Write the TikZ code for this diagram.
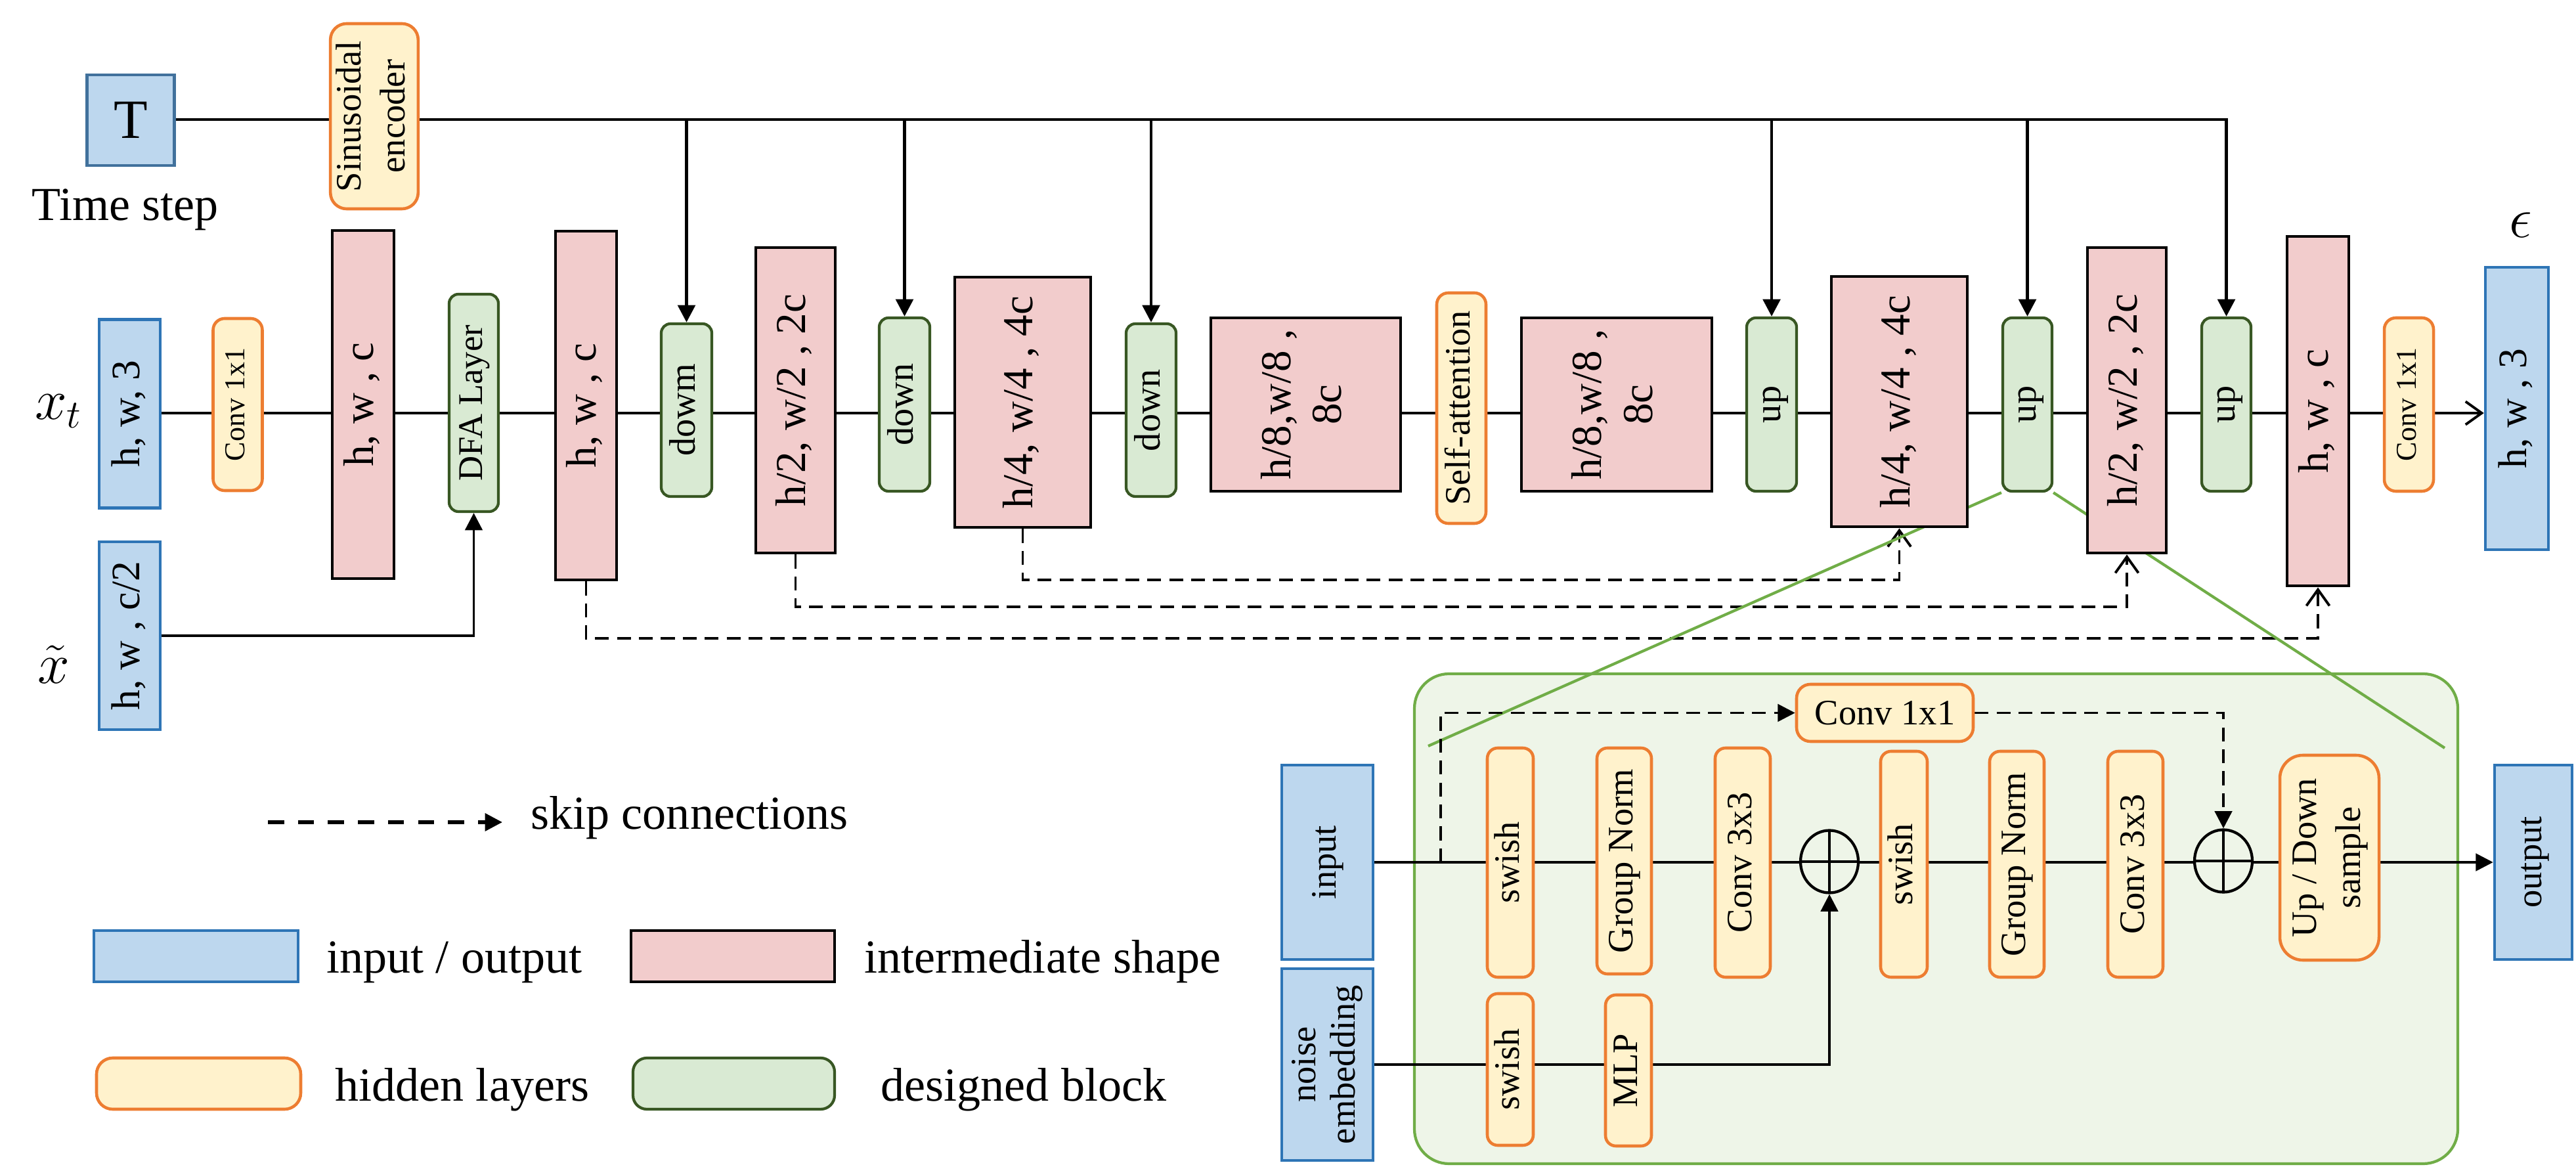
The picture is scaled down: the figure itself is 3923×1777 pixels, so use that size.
\documentclass[tikz,border=0pt]{standalone}
\usepackage{fontspec}
\setmainfont{Liberation Serif}
\usetikzlibrary{arrows.meta,shapes.geometric}
\definecolor{blueF}{HTML}{BDD7EE}
\definecolor{blueD}{HTML}{2E75B6}
\definecolor{tD}{HTML}{41719C}
\definecolor{pinkF}{HTML}{F2CCCC}
\definecolor{orF}{HTML}{FFF2CC}
\definecolor{orD}{HTML}{ED7D31}
\definecolor{grF}{HTML}{D9EAD3}
\definecolor{grD}{HTML}{385723}
\definecolor{bgF}{HTML}{EEF5E8}
\definecolor{bgD}{HTML}{70AD47}
\pgfdeclarelayer{back}
\pgfdeclarelayer{lines}
\pgfsetlayers{back,lines,main}
\newcommand{\vtext}[1]{\rotatebox{90}{\begin{tabular}{@{}c@{}}#1\end{tabular}}}
\newcommand{\fsz}[2]{\fontsize{#1}{#2}\selectfont}
\tikzset{
  sz/.style 2 args={minimum width=#1*0.01cm, minimum height=#2*0.01cm},
  io/.style={draw=blueD, fill=blueF, line width=1.3pt, inner sep=0pt, font=\fsz{17.5}{21}},
  pk/.style={draw=black, fill=pinkF, line width=1.4pt, inner sep=0pt, font=\fsz{18.5}{22}},
  hl/.style={draw=orD, fill=orF, line width=1.3pt, rounded corners=5pt, inner sep=0pt, font=\fsz{15.5}{19}},
  db/.style={draw=grD, fill=grF, line width=1.2pt, rounded corners=4pt, inner sep=0pt, font=\fsz{16}{19}},
  conn/.style={line width=1.1pt},
  tline/.style={line width=1.4pt},
  skipl/.style={line width=1.1pt, dash pattern=on 6pt off 3.5pt},
  tarr/.style={-{Triangle[length=7.5pt,width=7.5pt]}},
  barr/.style={-{Straight Barb[length=7pt,width=10pt]}},
  opl/.style={ellipse, draw, line width=1.2pt, inner sep=0pt, sz={88}{95},
    path picture={\draw[line width=1.2pt] (path picture bounding box.north) -- (path picture bounding box.south);
                  \draw[line width=1.2pt] (path picture bounding box.west) -- (path picture bounding box.east);}},
  lbl/.style={inner sep=0pt, font=\fsz{20.5}{24}},
}
\begin{document}
\begin{tikzpicture}[x=0.01cm, y=-0.01cm]
\useasboundingbox (0,0) rectangle (3923,1777);
% ---------- top row
\node[io, draw=tD, sz={133}{138}, font=\fsz{24}{28}] (T) at (199,183) {T};
\node[lbl, anchor=base west] (ts) at (48,336) {Time step};
\node[hl, sz={129}{282}, rounded corners=7pt] (sin) at (570,177) {\vtext{Sinusoidal\\encoder}};
% ---------- main row
\node[io, sz={93}{287}] (xt) at (197.5,630) {\vtext{h, w, 3}};
\node[hl, sz={75}{262}, font=\fsz{12.5}{15}] (c1) at (362,616) {\vtext{Conv 1x1}};
\node[pk, sz={94}{530}] (p1) at (553,616) {\vtext{h, w , c}};
\node[db, sz={75}{331}, font=\fsz{15}{18}] (dfa) at (721.5,613.5) {\vtext{DFA Layer}};
\node[pk, sz={93}{531}] (p2) at (892.5,617.5) {\vtext{h, w , c}};
\node[db, sz={77}{263}] (dm1) at (1045.5,624.5) {\vtext{dowm}};
\node[pk, sz={121}{465}] (p3) at (1211.5,609.5) {\vtext{h/2, w/2 , 2c}};
\node[db, sz={77}{264}] (dn2) at (1377.5,616) {\vtext{down}};
\node[pk, sz={207}{381}] (p4) at (1557.5,612.5) {\vtext{h/4, w/4 , 4c}};
\node[db, sz={76}{263}] (dn3) at (1753,624.5) {\vtext{down}};
\node[pk, sz={289}{264}] (p5) at (1988.5,616) {\vtext{h/8,w/8 ,\\8c}};
\node[hl, sz={75}{351}] (sa) at (2225.5,621.5) {\vtext{Self-attention}};
\node[pk, sz={290}{264}] (p6) at (2462,616) {\vtext{h/8,w/8 ,\\8c}};
\node[db, sz={76}{264}] (up1) at (2698,616) {\vtext{up}};
\node[pk, sz={207}{381}] (p7) at (2892.5,611.5) {\vtext{h/4, w/4 , 4c}};
\node[db, sz={75}{264}] (up2) at (3087.5,616) {\vtext{up}};
\node[pk, sz={120}{465}] (p8) at (3239,609.5) {\vtext{h/2, w/2 , 2c}};
\node[db, sz={75}{264}] (up3) at (3390.5,616) {\vtext{up}};
\node[pk, sz={94}{532}] (p9) at (3530,626) {\vtext{h, w , c}};
\node[hl, sz={75}{264}, font=\fsz{12.5}{15}] (c2) at (3668.5,616) {\vtext{Conv 1x1}};
\node[io, sz={96}{430}] (out) at (3833,622) {\vtext{h, w , 3}};
\node[inner sep=0pt, font=\fsz{24}{28}] (eps) at (3839,343) {$\epsilon$};
\node[inner sep=0pt, font=\fsz{26}{30}] (xtl) at (89,626) {$x_t$};
\node[io, sz={93}{286}] (xs) at (197.5,968) {\vtext{h, w , c/2}};
\node[inner sep=0pt, font=\fsz{26}{30}] (xsl) at (82,1012) {$\tilde{x}$};
% ---------- legend
\coordinate (lgA) at (408,1252); \coordinate (lgB) at (765,1252);
\draw[line width=1.5pt, dash pattern=on 7pt off 6pt, -{Triangle[length=7.5pt,width=7.5pt]}] (lgA) -- (lgB);
\node[lbl, anchor=base west] (lsk) at (808,1263) {skip connections};
\node[io, sz={311}{78}] (lio) at (298.5,1456) {};
\node[lbl, anchor=base west] (lioT) at (497,1482) {input / output};
\node[pk, sz={310}{78}] (lpk) at (1116,1456) {};
\node[lbl, anchor=base west] (lpkT) at (1316,1482) {intermediate shape};
\node[hl, sz={311}{78}, rounded corners=7pt] (lhl) at (302.5,1650) {};
\node[lbl, anchor=base west] (lhlT) at (510,1676) {hidden layers};
\node[db, sz={307}{78}, rounded corners=6pt] (ldb) at (1117.5,1650) {};
\node[lbl, anchor=base west] (ldbT) at (1341,1676) {designed block};
% ---------- detail block
\begin{pgfonlayer}{back}
\node[draw=bgD, fill=bgF, line width=1.2pt, rounded corners=15pt, sz={1589}{746}] (blk) at (2948.5,1399) {};
\end{pgfonlayer}
\node[io, sz={139}{296}, font=\fsz{15.5}{18}] (ib) at (2021.5,1313) {\vtext{input}};
\node[io, sz={139}{292}, font=\fsz{15.5}{17}] (nb) at (2021.5,1621) {\vtext{noise\\embedding}};
\node[hl, sz={70}{349}, rounded corners=4.5pt] (sw1) at (2300,1313.5) {\vtext{swish}};
\node[hl, sz={83}{344}, rounded corners=4.5pt] (gn1) at (2473.5,1311) {\vtext{Group Norm}};
\node[hl, sz={84}{349}, rounded corners=4.5pt] (cv1) at (2654,1313.5) {\vtext{Conv 3x3}};
\node[opl] (op1) at (2786,1312) {};
\node[hl, sz={71}{344}, rounded corners=4.5pt] (sw2) at (2899.5,1316) {\vtext{swish}};
\node[hl, sz={83}{344}, rounded corners=4.5pt] (gn2) at (3071.5,1316) {\vtext{Group Norm}};
\node[hl, sz={84}{344}, rounded corners=4.5pt] (cv2) at (3252,1316) {\vtext{Conv 3x3}};
\node[opl] (op2) at (3386,1311) {};
\node[hl, sz={151}{312}, rounded corners=10pt] (ud) at (3547.5,1306) {\vtext{Up / Down\\sample}};
\node[io, sz={118}{296}, font=\fsz{15.5}{18}] (ob) at (3858,1313) {\vtext{output}};
\node[hl, sz={269}{87}, rounded corners=6pt] (cc) at (2870.5,1085.5) {Conv 1x1};
\node[hl, sz={70}{231}, rounded corners=4.5pt] (sw3) at (2300,1628.5) {\vtext{swish}};
\node[hl, sz={70}{230}, rounded corners=4.5pt] (mlp) at (2480,1630) {\vtext{MLP}};
% ---------- connectors
\begin{pgfonlayer}{lines}
\coordinate (ml) at (0,629);
\foreach \a/\b in {xt/c1,c1/p1,p1/dfa,dfa/p2,p2/dm1,dm1/p3,p3/dn2,dn2/p4,p4/dn3,dn3/p5,p5/sa,sa/p6,p6/up1,up1/p7,p7/up2,up2/p8,p8/up3,up3/p9,p9/c2}
  \draw[conn] (\a.east |- ml) -- (\b.west |- ml);
\draw[conn,barr] (c2.east |- ml) -- (out.west |- ml);
\coordinate (tl) at (0,182);
\draw[tline] (T.east |- tl) -- (sin.west |- tl);
\draw[tline,tarr] (sin.east |- tl) -- (up3.north |- tl) -- (up3.north);
\foreach \n in {dm1,dn2,dn3,up1,up2} \draw[tline,tarr] (\n.north |- tl) -- (\n.north);
\draw[conn,tarr] (xs.east) -| (dfa.south);
\coordinate (sk1) at (0,972); \coordinate (sk2) at (0,924); \coordinate (sk3) at (0,883);
\draw[skipl,barr] (p2.south) -- (p2.south |- sk1) -| (p9.south);
\draw[skipl,barr] (p3.south) -- (p3.south |- sk2) -| (p8.south);
\draw[skipl,barr] (p4.south) -- (p4.south |- sk3) -| (p7.south);
\coordinate (gA) at (2175,1136); \coordinate (gB) at (3723,1139);
\draw[bgD, line width=1.2pt] (up2.south west) -- (gA);
\draw[bgD, line width=1.2pt] (up2.south east) -- (gB);
% inner
\coordinate (il) at (0,1313);
\foreach \a/\b in {ib/sw1,sw1/gn1,gn1/cv1,cv1/op1,op1/sw2,sw2/gn2,gn2/cv2,cv2/op2,op2/ud}
  \draw[conn] (\a.east |- il) -- (\b.west |- il);
\draw[conn,tarr] (ud.east |- il) -- (ob.west |- il);
\coordinate (nl) at (0,1621);
\draw[conn] (nb.east |- nl) -- (sw3.west |- nl);
\draw[conn] (sw3.east |- nl) -- (mlp.west |- nl);
\draw[conn,tarr] (mlp.east |- nl) -| (op1.south);
\coordinate (dj) at (2194,1313);
\draw[skipl,tarr] (dj) |- (cc.west);
\draw[skipl,tarr] (cc.east) -| (op2.north);
\end{pgfonlayer}
\end{tikzpicture}
\end{document}
